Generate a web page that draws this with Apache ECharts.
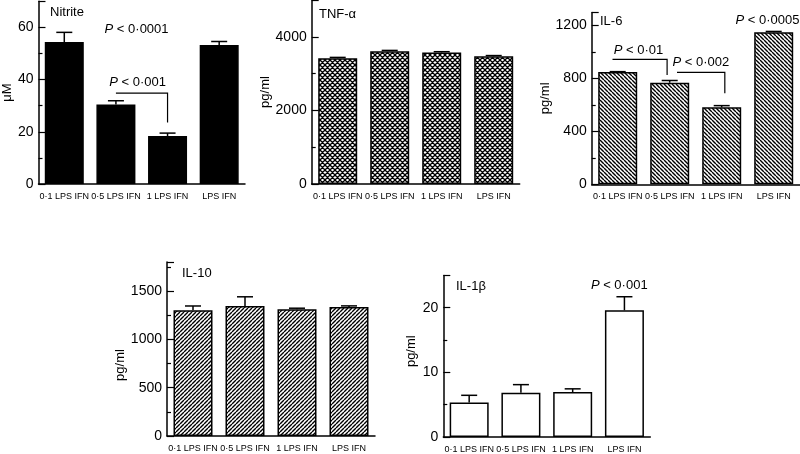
<!DOCTYPE html>
<html><head><meta charset="utf-8">
<script src="https://cdn.jsdelivr.net/npm/echarts@6/dist/echarts.min.js"></script>
<style>html,body{margin:0;padding:0;background:#fff}#c{width:800px;height:454px}</style>
</head><body><div id="c"></div>
<script>
// ---- data ----
const categories = ['0·1 LPS IFN', '0·5 LPS IFN', '1 LPS IFN', 'LPS IFN'];
const panelNames = ['Nitrite', 'TNF-α', 'IL-6', 'IL-10', 'IL-1β'];
const axisNames = ['μM', 'pg/ml', 'pg/ml', 'pg/ml', 'pg/ml'];
const nitrite = [54.4, 30.5, 18.4, 53.3];
const nitriteErr = [58.1, 31.9, 19.5, 54.6];
const tnf = [3415, 3610, 3575, 3470];
const tnfErr = [3440, 3630, 3595, 3490];
const il6 = [850, 768, 582, 1150];
const il6Err = [852, 785, 595, 1156];
const il10 = [1302, 1346, 1312, 1334];
const il10Err = [1345, 1440, 1322, 1346];
const il1b = [5.35, 6.85, 6.95, 19.6];
const il1bErr = [6.45, 8.1, 7.45, 21.7];
const yMax = [70, 5000, 1300, 1800, 25];
const yInterval = [20, 2000, 400, 500, 10];
// significance annotations: [panel, catPos (fractional category), value, text]
const pTexts = [
  [0, 1.4, 59.3, 'P < 0·0001'],
  [0, 1.42, 38.8, 'P < 0·001'],
  [2, 0.4, 1016, 'P < 0·01'],
  [2, 1.6, 920, 'P < 0·002'],
  [2, 2.88, 1243, 'P < 0·0005'],
  [4, 2.9, 23.4, 'P < 0·001']
];
// brackets: [panel, fromCat, toCat, lineValue, dropValue]
const brackets = [
  [0, 1.0, 2.0, 34.8, 23.6],
  [2, -0.1, 0.95, 945, 827],
  [2, 1.14, 2.06, 847, 688]
];

const values = [nitrite, tnf, il6, il10, il1b];
const errs = [nitriteErr, tnfErr, il6Err, il10Err, il1bErr];

// ---- patterns ----
function makePattern(kind) {
  const s = kind === 'cross' ? 5 : 4;
  const c = document.createElement('canvas');
  c.width = s; c.height = s;
  const g = c.getContext('2d');
  g.fillStyle = '#fff'; g.fillRect(0, 0, s, s);
  g.strokeStyle = '#000'; g.lineWidth = kind === 'cross' ? 1.3 : 1.4;
  g.beginPath();
  for (const k of [-s, 0, s]) {
    if (kind === 'back' || kind === 'cross') { g.moveTo(k, 0); g.lineTo(k + s, s); }
    if (kind === 'fwd' || kind === 'cross') { g.moveTo(k, s); g.lineTo(k + s, 0); }
  }
  g.stroke();
  return { image: c, repeat: 'repeat' };
}
const fills = ['#000', makePattern('cross'), makePattern('back'), makePattern('fwd'), '#fff'];

const grids = [
  { left: 37, top: 1.3, width: 208, height: 182.7 },
  { left: 311.7, top: 0, width: 208, height: 184 },
  { left: 591.7, top: 12.4, width: 208, height: 171.9 },
  { left: 167, top: 262, width: 208, height: 174 },
  { left: 443.3, top: 275.4, width: 207, height: 163.3 }
];
const nameGaps = [17, 31, 30, 40, 25];
const namePad = [[0, 0, 0, 0], [0, 0, 0, 0], [0, 0, 0, 0], [0, 32, 0, 0], [0, 0, 0, 10]];
const titlePos = [[50, 6], [319, 8], [600, 15], [182, 267], [456, 280]];

const xAxes = [], yAxes = [], series = [], titles = [];
for (let i = 0; i < 5; i++) {
  xAxes.push({
    type: 'category', gridIndex: i, data: categories,
    axisLine: { lineStyle: { color: '#000', width: 1.5 } },
    axisTick: { show: false },
    axisLabel: { color: '#000', fontSize: 9, margin: 8, fontFamily: 'Liberation Sans', interval: 0 }
  });
  yAxes.push({
    type: 'value', gridIndex: i, min: 0, max: yMax[i], interval: yInterval[i],
    name: axisNames[i], nameLocation: 'middle', nameGap: nameGaps[i],
    nameTextStyle: { color: '#000', fontSize: 13, fontFamily: 'Liberation Sans', padding: namePad[i] },
    axisLine: { show: true, lineStyle: { color: '#000', width: 1.5 } },
    axisTick: { show: true, inside: true, length: 7, lineStyle: { color: '#000', width: 1.2 } },
    minorTick: { show: true, splitNumber: 2, length: 4, lineStyle: { color: '#000', width: 1.2 } },
    splitLine: { show: false },
    axisLabel: {
      color: '#000', fontSize: 14, margin: 5, fontFamily: 'Liberation Sans', showMaxLabel: false,
      formatter: v => String(v)
    }
  });
  titles.push({
    text: panelNames[i], left: titlePos[i][0], top: titlePos[i][1], padding: 0,
    textStyle: { color: '#000', fontSize: 13, fontWeight: 'normal', fontFamily: 'Liberation Sans' }
  });
  series.push({
    type: 'bar', xAxisIndex: i, yAxisIndex: i, data: values[i], barWidth: 39,
    itemStyle: { color: fills[i], borderColor: '#000', borderWidth: 1.5 },
    silent: true, animation: false
  });
  // error bars
  series.push({
    type: 'custom', xAxisIndex: i, yAxisIndex: i,
    data: values[i].map((v, k) => [k, v, errs[i][k]]),
    renderItem: function (params, api) {
      const b = api.coord([api.value(0), api.value(1)]);
      const t = api.coord([api.value(0), api.value(2)]);
      const cap = 8;
      return {
        type: 'group', children: [
          { type: 'line', shape: { x1: b[0], y1: b[1], x2: t[0], y2: t[1] }, style: { stroke: '#000', lineWidth: 1.5 } },
          { type: 'line', shape: { x1: t[0] - cap, y1: t[1], x2: t[0] + cap, y2: t[1] }, style: { stroke: '#000', lineWidth: 1.5 } }
        ]
      };
    },
    z: 5, silent: true, animation: false
  });
}

// annotation texts and brackets
for (let i = 0; i < 5; i++) {
  const tx = pTexts.filter(p => p[0] === i);
  const br = brackets.filter(b => b[0] === i);
  if (!tx.length && !br.length) continue;
  series.push({
    type: 'custom', xAxisIndex: i, yAxisIndex: i,
    data: [[0, 0]],
    renderItem: function (params, api) {
      const bw = api.size([1, 0])[0];
      const px = (cat, val) => {
        const base = api.coord([0, val]);
        return [base[0] + cat * bw, base[1]];
      };
      const children = [];
      tx.forEach(p => {
        const pt = px(p[1], p[2]);
        children.push({
          type: 'text',
          style: {
            text: '{i|P}' + p[3].slice(1), x: pt[0], y: pt[1], align: 'center', verticalAlign: 'middle',
            fill: '#000', font: '13px "Liberation Sans"',
            rich: { i: { fontStyle: 'italic', fontSize: 13, fontFamily: 'Liberation Sans' } }
          }
        });
      });
      br.forEach(b => {
        const a = px(b[1], b[3]);
        const c = px(b[2], b[3]);
        const d = px(b[2], b[4]);
        children.push({
          type: 'polyline', shape: { points: [a, c, d] },
          style: { stroke: '#000', lineWidth: 1.2, fill: null }
        });
      });
      return { type: 'group', children: children };
    },
    z: 6, silent: true, animation: false
  });
}

const chart = echarts.init(document.getElementById('c'), null, { renderer: 'canvas' });
chart.setOption({
  animation: false,
  backgroundColor: '#fff',
  textStyle: { fontFamily: 'Liberation Sans' },
  title: titles,
  grid: grids,
  xAxis: xAxes,
  yAxis: yAxes,
  series: series
});
</script>
</body></html>
